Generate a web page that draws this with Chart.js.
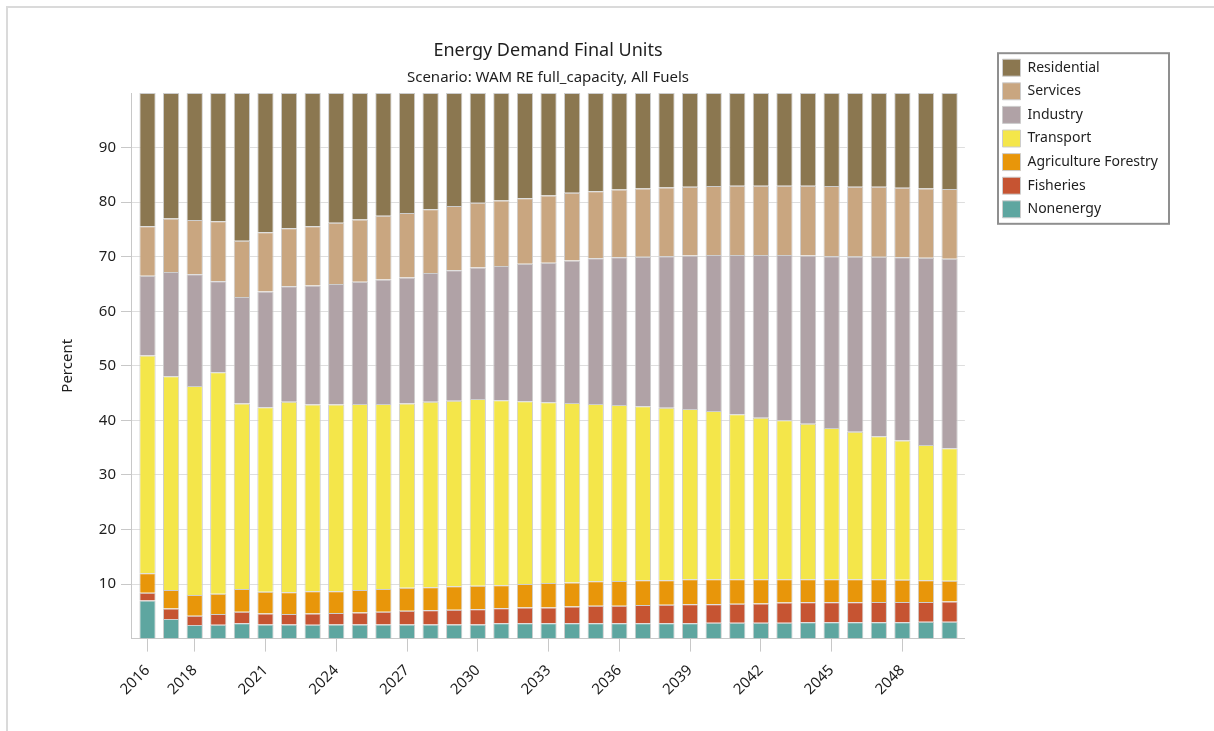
<!DOCTYPE html>
<html>
<head>
<meta charset="utf-8">
<title>Energy Demand Final Units</title>
<script src="https://cdn.jsdelivr.net/npm/chart.js@4/dist/chart.umd.min.js"></script>
<style>
  html, body { margin: 0; padding: 0; background: #fff; overflow: hidden; }
  body { width: 1214px; height: 731px; position: relative; }
  /* light frame around the report area */
  .frame { position: absolute; left: 6px; top: 6px; width: 1300px; height: 800px;
           border-left: 2px solid #dadada; border-top: 2px solid #dadada; }
  .wrap { position: absolute; left: 0; top: 0; width: 1214px; height: 731px; }
</style>
</head>
<body>
<div class="frame"></div>
<div class="wrap"><canvas id="demandChart"></canvas></div>

<script>
// Years on the x axis
const years = [2016, 2017, 2018, 2019, 2020, 2021, 2022, 2023, 2024, 2025, 2026, 2027,
               2028, 2029, 2030, 2031, 2032, 2033, 2034, 2035, 2036, 2037, 2038, 2039,
               2040, 2041, 2042, 2043, 2044, 2045, 2046, 2047, 2048, 2049, 2050];
const xTickYears = [2016, 2018, 2021, 2024, 2027, 2030, 2033, 2036, 2039, 2042, 2045, 2048];
const yTickValues = [10, 20, 30, 40, 50, 60, 70, 80, 90];

// Shares in percent, one value per year
const nonenergy = [7.0, 3.6, 2.5, 2.55, 2.8, 2.6, 2.6, 2.55, 2.6, 2.6, 2.6, 2.6,
                   2.6, 2.6, 2.6, 2.8, 2.8, 2.8, 2.8, 2.8, 2.8, 2.8, 2.8, 2.8,
                   2.9, 2.9, 2.9, 2.9, 3.0, 3.0, 3.0, 3.0, 3.0, 3.1, 3.1];
const fisheries = [1.4, 1.9, 1.7, 1.95, 2.1, 2.0, 1.9, 2.05, 2.1, 2.2, 2.3, 2.5,
                   2.6, 2.7, 2.8, 2.75, 2.9, 2.9, 3.1, 3.2, 3.2, 3.35, 3.4, 3.5,
                   3.4, 3.5, 3.55, 3.7, 3.65, 3.65, 3.65, 3.7, 3.7, 3.6, 3.7];
const agriculture = [3.6, 3.4, 3.8, 3.7, 4.2, 4.0, 4.0, 4.1, 4.0, 4.1, 4.2, 4.2,
                     4.2, 4.3, 4.3, 4.25, 4.3, 4.5, 4.4, 4.5, 4.55, 4.55, 4.5, 4.6,
                     4.6, 4.5, 4.45, 4.3, 4.25, 4.25, 4.25, 4.2, 4.1, 4.0, 3.8];
const transport = [39.9, 39.2, 38.3, 40.6, 34.0, 33.8, 34.9, 34.2, 34.2, 34.1, 33.9, 33.8,
                   34.0, 34.0, 34.2, 33.9, 33.5, 33.1, 32.9, 32.5, 32.25, 31.9, 31.6, 31.2,
                   30.8, 30.2, 29.6, 29.1, 28.5, 27.7, 27.0, 26.2, 25.5, 24.8, 24.3];
const industry = [14.6, 19.1, 20.5, 16.7, 19.5, 21.2, 21.2, 21.8, 22.1, 22.4, 22.8, 23.1,
                  23.6, 23.9, 24.1, 24.6, 25.2, 25.6, 26.1, 26.7, 27.1, 27.4, 27.8, 28.1,
                  28.6, 29.2, 29.8, 30.3, 30.8, 31.5, 32.15, 32.9, 33.6, 34.3, 34.7];
const services = [9.1, 9.8, 9.9, 11.0, 10.3, 10.9, 10.6, 10.9, 11.2, 11.4, 11.7, 11.8,
                  11.7, 11.8, 11.9, 12.0, 12.0, 12.3, 12.4, 12.3, 12.4, 12.5, 12.6, 12.6,
                  12.65, 12.7, 12.7, 12.7, 12.8, 12.85, 12.75, 12.8, 12.75, 12.7, 12.8];
const residential = [24.4, 23.0, 23.3, 23.5, 27.1, 25.5, 24.8, 24.4, 23.8, 23.2, 22.5, 22.0,
                     21.3, 20.7, 20.1, 19.7, 19.3, 18.8, 18.3, 18.0, 17.7, 17.5, 17.3, 17.2,
                     17.05, 17.0, 17.0, 17.0, 17.0, 17.05, 17.2, 17.2, 17.35, 17.5, 17.6];

const textColor = '#1e1e1e';
const lineGray = '#c8c8c8';
Chart.defaults.font.family = "'Noto Sans', 'Open Sans', sans-serif";
Chart.defaults.color = textColor;

function series(label, data, color) {
  return {
    label: label,
    data: data,
    backgroundColor: color,
    borderColor: '#cdcdcd',
    borderWidth: 1,
    categoryPercentage: 1,
    barPercentage: 0.69,
    yAxisID: 'y'
  };
}

// draws the grey frame round the legend
const legendFrame = {
  id: 'legendFrame',
  afterDraw(chart) {
    const boxes = chart.legend && chart.legend.legendHitBoxes;
    if (!boxes || !boxes.length) return;
    const left = Math.min(...boxes.map(b => b.left)) - 4.5;
    const right = Math.max(...boxes.map(b => b.left + b.width)) + 11;
    const top = Math.min(...boxes.map(b => b.top)) - 6;
    const bottom = Math.max(...boxes.map(b => b.top + b.height)) + 6;
    const ctx = chart.ctx;
    ctx.save();
    ctx.strokeStyle = '#8f8f8f';
    ctx.lineWidth = 2;
    ctx.strokeRect(left, top, right - left, bottom - top);
    ctx.restore();
  }
};

new Chart(document.getElementById('demandChart'), {
  type: 'bar',
  data: {
    labels: years,
    datasets: [
      series('Nonenergy', nonenergy, '#5ea6a0'),
      series('Fisheries', fisheries, '#c65432'),
      series('Agriculture Forestry', agriculture, '#e8960a'),
      series('Transport', transport, '#f4e64a'),
      series('Industry', industry, '#b0a2a6'),
      series('Services', services, '#c9a680'),
      series('Residential', residential, '#8b7750')
    ]
  },
  options: {
    responsive: true,
    maintainAspectRatio: false,
    animation: false,
    layout: { padding: { left: 0, right: 46, top: 0, bottom: 0 } },
    scales: {
      x: {
        type: 'linear',
        stacked: true,
        offset: false,
        min: 2015.3,
        max: 2050.65,
        afterBuildTicks: s => { s.ticks = xTickYears.map(v => ({ value: v })); },
        afterFit: s => { s.height = 92.4; },
        grid: { display: true, offset: false, drawOnChartArea: false, drawTicks: true,
                tickLength: 13, color: lineGray, tickColor: lineGray },
        border: { display: true, color: lineGray },
        ticks: { autoSkip: false, minRotation: 45, maxRotation: 45, padding: 10,
                 font: { size: 15 }, color: textColor, callback: v => String(v) }
      },
      y: {
        stacked: true,
        min: 0,
        max: 100,
        afterBuildTicks: s => { s.ticks = yTickValues.map(v => ({ value: v })); },
        afterFit: s => { s.width = 131; },
        grid: { color: '#dedede', tickColor: lineGray, tickLength: 10, drawTicks: true },
        border: { display: true, color: lineGray },
        ticks: { padding: 5, font: { size: 15 }, color: textColor },
        title: { display: true, text: 'Percent', font: { size: 15 }, color: textColor,
                 padding: { top: 59, bottom: 0 } }
      },
      // empty axis that only keeps a gap between the plot and the legend
      gap: {
        type: 'linear',
        axis: 'y',
        position: 'right',
        display: true,
        grid: { display: false, drawTicks: false },
        border: { display: false },
        ticks: { display: false },
        afterFit: s => { s.width = 31; }
      }
    },
    plugins: {
      title: {
        display: true,
        text: 'Energy Demand Final Units',
        fullSize: false,
        color: textColor,
        font: { size: 18, weight: 'normal' },
        padding: { top: 40.2, bottom: 0 }
      },
      subtitle: {
        display: true,
        text: 'Scenario: WAM RE full_capacity, All Fuels',
        fullSize: false,
        color: textColor,
        font: { size: 15 },
        padding: { top: 7.2, bottom: 6 }
      },
      legend: {
        position: 'right',
        align: 'start',
        reverse: true,
        fullSize: true,
        title: { display: true, text: ' ', font: { size: 10 }, padding: { top: 40.6, bottom: 0 } },
        labels: { boxWidth: 18, boxHeight: 17, padding: 6.6, font: { size: 14 }, color: textColor }
      },
      tooltip: { enabled: true }
    }
  },
  plugins: [legendFrame]
});
</script>
</body>
</html>
